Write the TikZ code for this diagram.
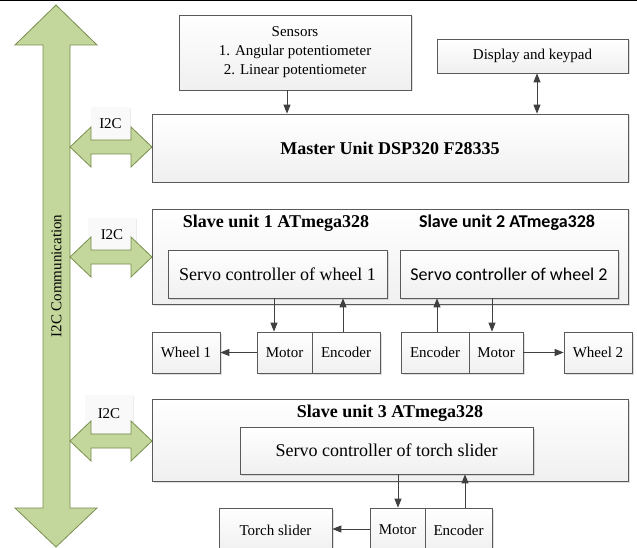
\documentclass[tikz,border=0pt]{standalone}
\usepackage{fontspec}
\setmainfont{Liberation Serif}
\newfontfamily\calibrifont{Carlito}
\usetikzlibrary{arrows.meta,shadows}
\definecolor{busgreen}{HTML}{C3D69B}
\definecolor{busedge}{HTML}{7A8F4E}
\definecolor{linegray}{HTML}{404040}
\definecolor{boxedge}{HTML}{5A5A5A}

\begin{document}
\begin{tikzpicture}[x=1pt,y=-1pt,
  blk/.style={draw=boxedge, line width=0.7pt, top color=white, bottom color=gray!12,
    drop shadow={shadow xshift=1.5pt, shadow yshift=-1.5pt, opacity=0.25},
    inner sep=0pt, align=center, font=\fontsize{15}{19}\selectfont},
  lbl/.style={fill=gray!5, inner sep=0pt, font=\fontsize{15}{19}\selectfont,
    drop shadow={shadow xshift=1pt, shadow yshift=-1pt, opacity=0.15}},
  bus/.style={fill=busgreen, draw=busedge, line width=0.8pt, line join=miter},
  arr/.style={draw=linegray, line width=0.9pt, -{Triangle[length=9pt,width=7pt]}},
  big/.style={font=\fontsize{18}{22}\selectfont},
  ttl/.style={font=\fontsize{18}{22}\selectfont\bfseries}]
\useasboundingbox (0,0) rectangle (637,548);
\draw[line width=1.5pt] (0,0.75) -- (637,0.75);

\filldraw[bus] (56,5) -- (97,45) -- (70,45) -- (70,508) -- (97,508) -- (56,547)
  -- (15,508) -- (43,508) -- (43,45) -- (15,45) -- cycle;
\node[rotate=90, font=\fontsize{15}{19}\selectfont] (bustext) at (56.5,276) {I2C Communication};

\node[lbl, minimum width=39pt, minimum height=34pt] (lbla) at (110.5,124) {I2C};
\node[lbl, minimum width=48pt, minimum height=34pt] (lblb) at (112,235) {I2C};
\node[lbl, minimum width=48pt, minimum height=38pt] (lblc) at (109,414) {I2C};
\foreach \yy in {147,257,441}
  \filldraw[bus] (70,\yy) -- (91,\yy-20) -- (91,\yy-7) -- (131,\yy-7) -- (131,\yy-20)
    -- (152,\yy) -- (131,\yy+20) -- (131,\yy+7) -- (91,\yy+7) -- (91,\yy+20) -- cycle;

\node[blk, minimum width=232pt, minimum height=75pt] (sensors) at (295,52.5)
  {Sensors\\1. Angular potentiometer\\2. Linear potentiometer};
\node[blk, minimum width=191pt, minimum height=34pt] (display) at (532.5,56) {Display and keypad};
\node[blk, minimum width=476pt, minimum height=68pt, font=\fontsize{18}{22}\selectfont\bfseries]
  (master) at (390,148) {Master Unit DSP320 F28335};

\node[blk, minimum width=476pt, minimum height=95pt] (slaveab) at (390,256.5) {};
\node[ttl] (titlea) at (276,223) {Slave unit 1 ATmega328};
\node[ttl, font=\fontsize{18}{22}\selectfont\bfseries\calibrifont] (titleb) at (507,223) {Slave unit 2 ATmega328};
\node[blk, big, minimum width=219pt, minimum height=48pt] (servoa) at (277.5,274) {Servo controller of wheel 1};
\node[blk, big, minimum width=218pt, minimum height=48pt, font=\fontsize{18}{22}\selectfont\calibrifont]
  (servob) at (509,274) {Servo controller of wheel 2};

\node[blk, minimum width=68pt, minimum height=41pt] (wheela) at (186,352.5) {Wheel 1};
\node[blk, minimum width=55pt, minimum height=41pt] (motora) at (284.5,352.5) {Motor};
\node[blk, minimum width=68pt, minimum height=41pt] (encodera) at (346,352.5) {Encoder};
\node[blk, minimum width=68pt, minimum height=41pt] (encoderb) at (435,352.5) {Encoder};
\node[blk, minimum width=54pt, minimum height=41pt] (motorb) at (496,352.5) {Motor};
\node[blk, minimum width=68pt, minimum height=41pt] (wheelb) at (598,352.5) {Wheel 2};

\node[blk, minimum width=476pt, minimum height=82pt] (slavec) at (390,440) {};
\node[ttl] (titlec) at (390,413) {Slave unit 3 ATmega328};
\node[blk, big, minimum width=293pt, minimum height=47pt] (servoc) at (386.5,450.5) {Servo controller of torch slider};

\node[blk, minimum width=113pt, minimum height=44pt] (torch) at (275.5,530) {Torch slider};
\node[blk, minimum width=55pt, minimum height=44pt] (motorc) at (397.5,530) {Motor};
\node[blk, minimum width=67pt, minimum height=44pt] (encoderc) at (458.5,530) {Encoder};

\draw[arr] (sensors.south -| 287,0) -- (master.north -| 287,0);
\draw[arr, {Triangle[length=9pt,width=7pt]}-{Triangle[length=9pt,width=7pt]}] (display.south -| 537,0) -- (master.north -| 537,0);
\draw[arr] (servoa.south -| 274,0) -- (motora.north -| 274,0);
\draw[arr] (encodera.north -| 343,0) -- (servoa.south -| 343,0);
\draw[arr] (motora.west) -- (wheela.east);
\draw[arr] (encoderb.north -| 437,0) -- (servob.south -| 437,0);
\draw[arr] (servob.south -| 492,0) -- (motorb.north -| 492,0);
\draw[arr] (motorb.east) -- (wheelb.west);
\draw[arr] (servoc.south -| 398,0) -- (motorc.north -| 398,0);
\draw[arr] (encoderc.north -| 465,0) -- (servoc.south -| 465,0);
\draw[arr] (motorc.west |- 0,529) -- (torch.east |- 0,529);
\end{tikzpicture}
\end{document}
